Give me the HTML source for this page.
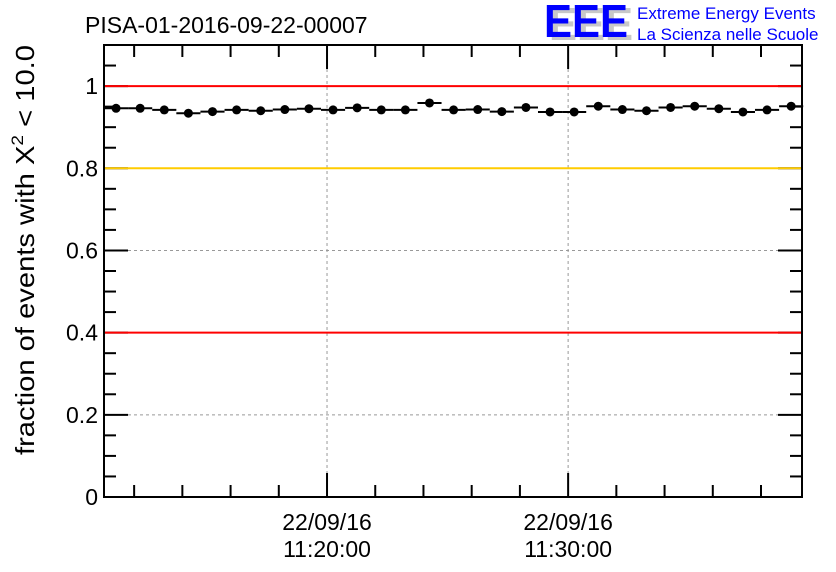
<!DOCTYPE html>
<html><head><meta charset="utf-8"><style>
body{margin:0;background:#fff;}
svg{display:block;font-family:"Liberation Sans",sans-serif;}
</style></head><body>
<svg id="chart" width="836" height="572" viewBox="0 0 836 572" xmlns="http://www.w3.org/2000/svg">
<rect width="836" height="572" fill="#fff"/>
<text x="85" y="33" font-size="23">PISA-01-2016-09-22-00007</text>
<g>
<text x="549" y="40" font-size="46" font-weight="bold" fill="#c8c8c8" textLength="84" lengthAdjust="spacingAndGlyphs">EEE</text>
<text x="544" y="37" font-size="46" font-weight="bold" fill="#0000ff" textLength="84" lengthAdjust="spacingAndGlyphs">EEE</text>
<text x="637" y="19" font-size="17" fill="#0000ff">Extreme Energy Events</text>
<text x="637" y="40" font-size="17" fill="#0000ff">La Scienza nelle Scuole</text>
</g>
<g id="grid"></g>
<g id="ticks"></g>
<g id="refs"></g>
<g id="marks"></g>
<rect x="104" y="45" width="698" height="452" fill="none" stroke="#000" stroke-width="2"/>
<text transform="translate(34,455) rotate(-90)" font-size="26" textLength="410" lengthAdjust="spacingAndGlyphs">fraction of events with X<tspan dy="-11" font-size="17">2</tspan><tspan dy="11"> &lt; 10.0</tspan></text>
</svg>
<script>
const times = [-8.75,-7.75,-6.75,-5.75,-4.75,-3.75,-2.75,-1.75,-0.75,0.25,1.25,2.25,3.25,4.25,5.25,6.25,7.25,8.25,9.25,10.25,11.25,12.25,13.25,14.25,15.25,16.25,17.25,18.25,19.25];
const values = [0.946,0.946,0.942,0.934,0.938,0.942,0.940,0.943,0.945,0.942,0.947,0.942,0.942,0.959,0.942,0.943,0.938,0.948,0.937,0.937,0.951,0.943,0.940,0.948,0.951,0.945,0.937,0.942,0.951];
const yTickValues = [0,0.2,0.4,0.6,0.8,1];
const yTickLabels = ["0","0.2","0.4","0.6","0.8","1"];
const xTickValues = [0,10];
const xTickLabels = [["22/09/16","11:20:00"],["22/09/16","11:30:00"]];
const refLines = [1.0,0.8,0.4];
const refColors = ["#ff0000","#ffcc00","#ff0000"];

const X0=104,X1=802,Y0=497,Y1=45,XMIN=-9.25,XMAX=19.7,YMIN=0,YMAX=1.1;
const xs=t=>X0+(t-XMIN)/(XMAX-XMIN)*(X1-X0);
const ys=v=>Y0-(v-YMIN)/(YMAX-YMIN)*(Y0-Y1);
const NS="http://www.w3.org/2000/svg";
function mk(tag,parent,attrs){const e=document.createElementNS(NS,tag);for(const k in attrs)e.setAttribute(k,attrs[k]);document.getElementById(parent).appendChild(e);return e;}

xTickValues.forEach(t=>{const e=mk('line','grid',{x1:xs(t),x2:xs(t),y1:Y1,y2:Y0,stroke:'#999','stroke-dasharray':'3,3'});

});
yTickValues.forEach(v=>{if(v===0)return;const e=mk('line','grid',{x1:X0,x2:X1,y1:ys(v),y2:ys(v),stroke:'#999','stroke-dasharray':'3,3'});

});
refLines.forEach((v,i)=>{const e=mk('line','refs',{x1:X0,x2:X1,y1:ys(v),y2:ys(v),stroke:refColors[i],'stroke-width':2});

});
for(let i=0;i<=22;i++){const v=i*0.05;const major=i%4===0;const L=major?24:12;const y=ys(v);
mk('line','ticks',{x1:X0,x2:X0+L,y1:y,y2:y,stroke:'#000','stroke-width':2});
mk('line','ticks',{x1:X1,x2:X1-L,y1:y,y2:y,stroke:'#000','stroke-width':2});}
yTickValues.forEach((v,i)=>{const e=mk('text','ticks',{x:X0-6,y:ys(v)+8,'text-anchor':'end','font-size':23});e.textContent=yTickLabels[i];

});
for(let t=-8;t<=XMAX;t+=2){const major=(t%10===0);const L=major?24:12;const x=xs(t);
mk('line','ticks',{x1:x,x2:x,y1:Y0,y2:Y0-L,stroke:'#000','stroke-width':2});
mk('line','ticks',{x1:x,x2:x,y1:Y1,y2:Y1+L,stroke:'#000','stroke-width':2});}
xTickValues.forEach((t,i)=>{xTickLabels[i].forEach((s,j)=>{const e=mk('text','ticks',{x:xs(t),y:530+j*27,'text-anchor':'middle','font-size':23});e.textContent=s;

});});
times.forEach((t,i)=>{const x=xs(t),y=ys(values[i]);
const b=mk('line','marks',{x1:xs(t-0.5),x2:xs(t+0.5),y1:y,y2:y,stroke:'#000','stroke-width':2});


const c=mk('circle','marks',{cx:x,cy:y,r:4.5,fill:'#000'});

});
</script>
</body></html>
